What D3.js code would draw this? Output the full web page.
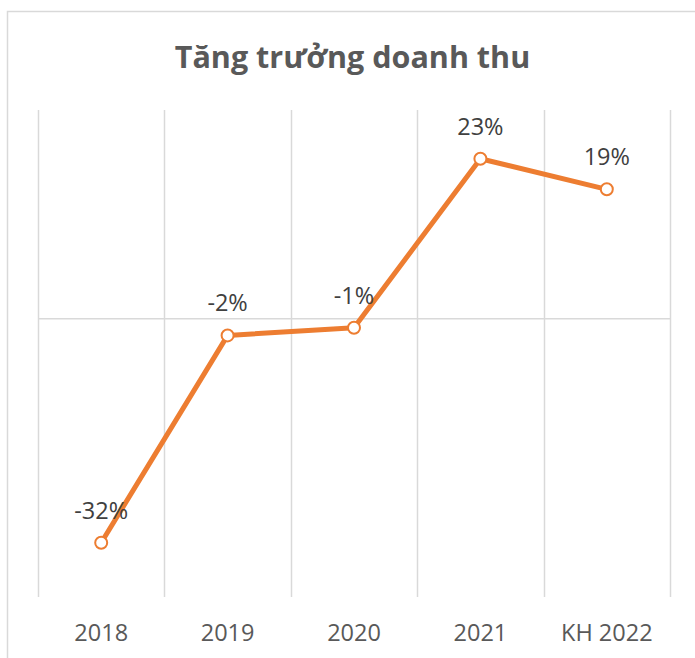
<!DOCTYPE html>
<html>
<head>
<meta charset="utf-8">
<script src="https://cdn.jsdelivr.net/npm/d3@7"></script>
<style>
  body { margin: 0; background: #fff; }
  text { font-family: "Open Sans", "Noto Sans", sans-serif; }
</style>
</head>
<body>
<script>
var categories = ['2018', '2019', '2020', '2021', 'KH 2022'];
var growth = [-32.2, -2.4, -1.3, 23.0, 18.6];
var labels = ['-32%', '-2%', '-1%', '23%', '19%'];
var chartTitle = 'Tăng trưởng doanh thu';

var width = 695, height = 658;
var margin = { top: 110, right: 25, bottom: 61, left: 38 };
var plotWidth = width - margin.left - margin.right;
var plotHeight = height - margin.top - margin.bottom;

var svg = d3.select('body')
  .append('svg')
  .attr('width', width)
  .attr('height', height);

// chart border (right and bottom edges fall outside the picture)
svg.append('rect')
  .attr('x', 7.5)
  .attr('y', 11.5)
  .attr('width', 720)
  .attr('height', 700)
  .attr('fill', 'none')
  .attr('stroke', '#d9d9d9')
  .attr('stroke-width', 1.5);

svg.append('text')
  .attr('x', width / 2 + 5)
  .attr('y', 68)
  .attr('text-anchor', 'middle')
  .attr('font-size', 30.5)
  .attr('font-weight', 'bold')
  .attr('fill', '#595959')
  .text(chartTitle);

var g = svg.append('g')
  .attr('transform', 'translate(' + margin.left + ',' + margin.top + ')');

var x = d3.scaleBand()
  .domain(categories)
  .range([0, plotWidth]);

var y = d3.scaleLinear()
  .domain([-40, 30])
  .range([plotHeight, 0]);

// vertical gridlines at category boundaries
var bounds = categories.map(function(d) { return x(d); }).concat([plotWidth]);
g.selectAll('.vgrid')
  .data(bounds)
  .enter()
  .append('line')
  .attr('x1', function(d) { return Math.round(d) + 0.5; })
  .attr('x2', function(d) { return Math.round(d) + 0.5; })
  .attr('y1', 0)
  .attr('y2', plotHeight)
  .attr('stroke', '#d9d9d9')
  .attr('stroke-width', 1.5);

// zero line (category axis)
g.append('line')
  .attr('x1', 0)
  .attr('x2', plotWidth)
  .attr('y1', y(0))
  .attr('y2', y(0))
  .attr('stroke', '#d9d9d9')
  .attr('stroke-width', 1.5);

// category labels at the bottom
var bottomAxis = d3.axisBottom(x).tickSize(0).tickPadding(0);
var axisNodes = g.append('g')
  .attr('transform', 'translate(0,' + plotHeight + ')')
  .call(bottomAxis);
axisNodes.select('.domain').remove();
axisNodes.selectAll('text')
  .attr('y', 0)
  .attr('dy', 44)
  .attr('font-size', 23.5)
  .attr('font-family', '"Open Sans", sans-serif')
  .attr('fill', '#595959');

var cx = function(d, i) { return x(categories[i]) + x.bandwidth() / 2; };

var line = d3.line()
  .x(function(d, i) { return cx(d, i); })
  .y(function(d) { return y(d); });

g.append('path')
  .datum(growth)
  .attr('d', line)
  .attr('fill', 'none')
  .attr('stroke', '#ed7d31')
  .attr('stroke-width', 5)
  .attr('stroke-linejoin', 'round');

g.selectAll('.dot')
  .data(growth)
  .enter()
  .append('circle')
  .attr('cx', cx)
  .attr('cy', function(d) { return y(d); })
  .attr('r', 6)
  .attr('fill', '#fff')
  .attr('stroke', '#ed7d31')
  .attr('stroke-width', 2);

g.selectAll('.lbl')
  .data(growth)
  .enter()
  .append('text')
  .attr('x', cx)
  .attr('y', function(d) { return y(d) - 24; })
  .attr('text-anchor', 'middle')
  .attr('font-size', 23.5)
  .attr('fill', '#404040')
  .text(function(d, i) { return labels[i]; });
</script>
</body>
</html>
